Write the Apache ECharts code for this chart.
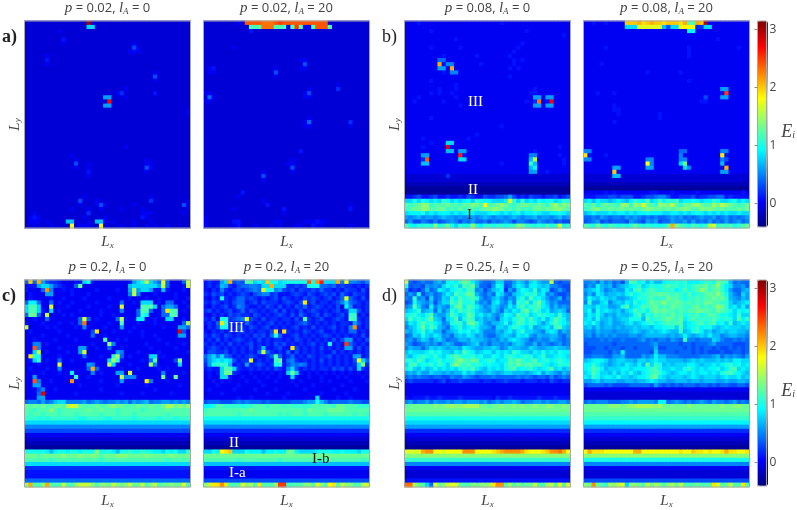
<!DOCTYPE html>
<html>
<head>
<meta charset="utf-8">
<style>html,body{margin:0;padding:0;background:#fff}#main{width:797px;height:510px}</style>
<script src="https://cdn.jsdelivr.net/npm/echarts@6/dist/echarts.min.js"></script>
</head>
<body>
<div id="main"></div>
<script>
// site values, one character per cell (base 36 level, E = level*0.1-0.4), rows from top to bottom
const panelA = [
"3333333333 33333y3333 3333333333 3333333333",
"3333333333 33333cc333 3333333333 3333333333",
"3333333343 3333333333 3333333333 3333333333",
"3333333333 3333333333 3333333333 3333333333",
"3333333335 3333333333 3333333333 3333333333",
"3333333334 3333333333 3333334333 3333333333",
"3333333333 3333333333 3333337433 3333333333",
"3333333333 3333333333 3333344433 3333333333",
"3333343333 3333333333 3333333333 3333333333",
"3333353333 3333333333 3333333333 3333333333",
"3333343333 3333333333 3333333333 3333333333",
"3333333333 3333333333 3333333333 3333333333",
"3333333333 3333333333 3333333333 3433333333",
"3333333333 3333333333 3333333333 3733333333",
"3333333333 3333333333 3333333333 3433333333",
"3333333333 3333333333 3333333333 3333333333",
"3333333333 3333333333 3333433333 3333333333",
"3333333333 3333333333 3346333333 3533333333",
"3333333333 333333333a a333433333 3333333333",
"3333333333 3333333333 v333333333 3333333333",
"3333333333 333333333a a333333333 3333333333",
"3333333333 3333333333 3333333333 3333333334",
"3333333333 3333333333 3333333333 3333333334",
"3333333333 3333333333 3333333333 3333333333",
"3333333333 3333333333 3333333333 3333333333",
"3333333333 3333333333 3333333333 3333333333",
"3333333333 3333333333 3333333333 3333333333",
"3333333333 3333333333 3333333333 3333333333",
"3333333333 3333333333 3333333333 3333333333",
"3333333333 3333333333 3333333333 3333333333",
"3333333333 3333333333 3333433333 3333333333",
"3333333333 3333333333 3333333333 3333333333",
"3333333333 3433333333 3333333333 3333333333",
"3333333333 3343333333 3333333334 3333333333",
"3333333333 3373343333 3333333334 4333333333",
"3333333333 3343343333 3333333337 4333333333",
"3333333333 3333353333 3333333334 3333333333",
"3333333333 3333343333 3333333333 3333333333",
"3333333333 3333333333 3333333333 3333333333",
"3333333333 3333333333 3333333333 3333333333",
"3333333333 3333333333 3333333333 3333333333",
"3333333333 3333333333 3333333333 3333333333",
"3333333333 3333433333 3333333333 4333333333",
"3333333333 3337333433 3333333333 6333333334",
"3333333333 3334333474 3333334333 3333333374",
"3333333333 3433343343 3334333343 3333333334",
"3343333333 3333363333 3333333344 4333333343",
"3454333333 3333433334 3333333354 3333333333",
"3444343333 bb33343bb4 3433334333 4333333333",
"3343334333 3m344433m4 3334334334 3433433333"
];
const panelA2 = [
"3333333343 ssssrrrsts ssssssssss 3333333333",
"3333333333 3gggrrrggg 4gtg44gsss g333333333",
"3333333333 3533333333 3333333333 3333333333",
"3333333333 3333333333 3333333333 3333333333",
"3333333333 3333333333 3333333333 3333333333",
"3333333333 3333333333 3333333333 3333333333",
"3333333433 3333333333 3333333333 3333333333",
"3333333333 3333333333 3333333333 3333333333",
"3333333333 3333333333 3333333333 3333333333",
"3333333333 3333333333 3334433333 3333333333",
"3333333333 3333333333 3333733333 3333333333",
"3453333333 3333333433 3334433333 3333333333",
"3443333333 3333333733 3333333333 3333333333",
"3333333333 3333333433 3333333333 3333333333",
"3333333333 3333333333 3333333333 3333333333",
"3333333333 3333333333 3333333333 3343333333",
"3333333333 3333333333 3333343333 3363333333",
"4433333333 3333333333 3333473333 3333333333",
"3843333333 3333333333 3333443333 3333333333",
"4433333333 3333333333 3333333333 3333333333",
"3333333333 3333333333 3333333333 3333333333",
"3333333333 3333333333 3333333333 3333333333",
"3333333333 3333333333 3333333333 3333333333",
"3333333333 3333333333 3333343333 3333333333",
"3333333333 3333333333 3333483333 3333363333",
"3333333333 3333333333 3333443333 3333343333",
"3333333333 3333333333 3333333333 3333333333",
"3333333333 3333333333 3333333333 3333333333",
"3333333333 3333333333 3333333333 3333333333",
"3333333333 3333333333 3333333333 3333333333",
"3333333333 3333333333 3333333333 3333333333",
"3333333333 3333333333 3335333333 3333333333",
"3333333333 3333333333 3333333333 3333333333",
"3333333333 3333333333 3433333333 3333333333",
"3333333333 3333333333 4433333333 3333333333",
"3333333333 3333333333 3733333333 3333333333",
"3333333333 3333433333 3433333333 3333333333",
"3333333333 3333733333 3333333333 3333333333",
"3333333333 3333433333 3333333333 3333333333",
"3333333333 3333333333 3333333333 3333333333",
"3333333333 3333333333 3333333333 3333333333",
"3333333335 3333333333 3333333333 3333333333",
"3333333343 3333333333 3333333333 3333333333",
"3333333333 3333433333 3333333333 3333333333",
"3333333333 3333353333 3333333333 3333343333",
"3333333433 3333333335 3333333333 3333353333",
"3333333333 3333333334 3333333333 3333333333",
"4333333333 3333333333 3333333333 3333333333",
"4333333553 3333333443 3333444544 3333333333",
"4333333453 3343334343 3344335443 3333343333"
];
const panelB = [
"4445444444 4444444444 4445444444 4444444444",
"4444444444 4444444444 4444444444 4444444444",
"4444445444 4444444444 4444444445 4444444444",
"4444444444 4444444444 4444444444 4444444454",
"4444444444 4454444444 4444444444 4444444444",
"4444444444 4444444444 4444444454 4444444444",
"4444445444 4445444444 4444444544 4444444444",
"4444444444 4444444444 4444445444 4444444444",
"4444444445 4444444544 4444454444 4444444444",
"4444444488 4444444444 4444445454 4444444444",
"44444444p5 9944444454 4444445444 4444444444",
"44444444aa 4p44444444 4444454544 4444444444",
"4444444445 4994444444 4444444444 4444444444",
"4444444444 4444444444 4444454444 4444444444",
"4444445444 4444444444 4444444444 4444444444",
"4444444444 4454444444 4444444444 4444444444",
"4444444454 4454444444 4444444444 4544444444",
"4444445454 4544444444 4444444444 5544444444",
"4445444444 4454444444 4444444444 4aa4aa4444",
"4454444445 4444444444 4444444445 46r45v4444",
"4444444444 4445444444 4444444444 4aa4aa4444",
"4444444444 4444444444 4444444444 4444444444",
"4444444444 4444444444 4444444444 4444444444",
"4444445444 4444444444 4444444444 4444444444",
"4444444444 4444444444 4444444444 4444444444",
"4444444444 4444444444 4445444444 4444444444",
"4444444444 4444444444 4444444444 4444444444",
"4444444444 4444444544 4444444444 4444444444",
"4444544444 4444454444 4444444444 4444444444",
"4444445444 cc44444444 4444444444 4444444444",
"4444544444 w544444444 4444444444 4444444544",
"4444444444 bb4aa44444 4444444444 4544444444",
"4444aa4444 444u544444 4444444444 9944444544",
"44446s4444 444cc44444 4444444444 bk44444454",
"4444bb4444 4444444444 4445444444 fb44444454",
"4444444444 4444444444 4444444444 bd44444444",
"4444444444 4444444444 4444444444 aa44544444",
"3333333333 6333333333 3333333333 3333333333",
"3333333333 3333333333 3333333333 3333333333",
"2222222222 2222222222 2222222222 2222222222",
"1111111111 1111111111 1111111111 1111111111",
"1111111111 1111111111 1111111111 1111111111",
"5567556755 6556576557 66778a7565 7665667567",
"ccecedcdcf ecdcdecfed dcccdlfcfc dcedeecdfe",
"gfghiifggg hggfhgihgm gghihgfghh gghgfhjgih",
"fghhiigghh fgfhfggfgh hiihggfhfg fhhghhiihg",
"cdddecdcdd dcdcdedccc dedcdcdecd dedccddedc",
"a9ab9aa9ab aa9a9aa9ab a9aa9aba9a ab9aa9ab9a",
"8a77987978 9a9798a889 7989a97998 78a9897877",
"gedfefeief hecfeejedf feffeffihf fefegeflef"
];
const panelB2 = [
"4454454444 ooopnopoon ooonpggpoy 4444444444",
"4444444444 cccllllllb 7ccmmmm66c c444444444",
"4444444444 4444444444 44444dd444 4444444444",
"4444444444 4444444444 4444444444 4444444444",
"4444444444 4444444444 4444444444 4454444444",
"4444444444 4444444444 4444444444 4444444444",
"4444454444 4444444444 4444454444 4444444544",
"4444444444 4444444444 4444454444 4444444444",
"4444444444 4444444444 4444454444 4444444444",
"4444444444 4444444444 4444444444 4444444444",
"4444544444 4444444444 4444444444 4444444444",
"4444444444 4444444444 4444444444 4444444444",
"4444444444 4444454444 4445444444 4444444444",
"4444444444 4444444444 4444444444 4444444444",
"4444444444 4444444444 4444454444 4444444444",
"4444444444 4444444444 4444444444 4444444444",
"4444444444 4444444444 4444444444 444aa44444",
"4445444544 4444444444 4444444444 4445t44444",
"4444444444 4444444444 4444444447 444aa44444",
"4444444444 4444444444 4444444455 4444444444",
"4444444544 4444444444 4444444444 4444444444",
"4444444554 4444444444 4444444444 4444444444",
"4444444454 4444444454 4444444444 4444444444",
"4444444444 4444444454 4444444444 4444444444",
"4444444544 4444444444 4444444444 4444444444",
"4444444444 4444444444 4444444444 4444444444",
"4444444444 4444444444 4444444444 4444444444",
"4444444444 4444444444 4444444444 4444444444",
"4444444444 4444444444 4444444444 4444444444",
"4444444444 4444444444 4444444444 4444444444",
"4444444444 4444444444 4444444444 4444444444",
"9944444444 4444444444 4448844444 4449944444",
"n544454444 4444444444 4449444444 444n544444",
"9944444444 4444499444 4449944444 4449744444",
"4444444444 44444m9444 444ch44444 444b444444",
"4444444aa4 44444aa444 4444c94444 4444p44444",
"4444444o54 4444444444 4444444444 444aa44444",
"3333333bb3 3333333333 3333333333 3333333333",
"3333333333 3333333333 3333333333 3333333333",
"2222222222 2222222222 2222222222 2222222222",
"1111111111 1111111111 1111111111 1111111111",
"4444454544 4444445544 4544444544 4444444454",
"5556667767 7755677899 7556667566 7788565555",
"cdbdccbcdc bdfedgcdgd fegcddedcd dfeccdecdc",
"gfheghggfj ifjhlhgfii hkgfhhijhg gjhkihgfgh",
"fghigghghh ghgghihhhg hghhihggih ihghggghgh",
"bcdcccdcdd cdcddedddc cddcdcdedc dcdcdccdcc",
"8898a98998 a9a9898988 9a9a8989a9 9a89a8989a",
"789a787888 7a987a9a78 8a99a8a898 a898a89a89",
"gfehfegfef efhfefeeee gphgfegfef jlfgfgefgh"
];
const panelC = [
"8o8pa76654 4455ce5444 444445acek ca8l84448k",
"555acca765 448h444444 44444bcccc ccak84445k",
"54448q9445 4544444544 44544ajacc a55b544454",
"45444aa444 4544454444 444449k944 4544445444",
"4544445445 4444544444 5444454445 4454445445",
"8dd8448454 4544444544 44484454cc c454884454",
"cggc44l444 5444454444 544l4444gg gc48aa8445",
"cggc54c454 4445444454 44494448gg 8448ngg454",
"8hh84k4445 4544444454 45444448fd 44488gg444",
"4454484444 4448l84544 448k544dd4 4544cc4454",
"5444544454 4548r44444 544g444544 454444448j",
"k444454544 4454944445 444a445444 4445444aa8",
"4544444454 4444447n44 4544454454 4444444w74",
"4444544444 5444448445 4444444454 4544444aa4",
"4454444544 445444444g 4454544444 4454444444",
"4499454444 4444445444 i944444445 4444544454",
"44s9444454 444aa44544 8445444444 5444445444",
"44ck454444 544al44444 44a9444544 4454444445",
"4nfe444454 4444844454 4fj8454444 cc45444444",
"45cf454484 4544444444 cjf5444454 8g44447i44",
"44454444l4 44444a9444 kc44454444 j944444c44",
"4544454494 444448p844 4445444544 4454544444",
"4444544454 4d44449454 44aa4l4444 4449444454",
"44a4444444 44f4454444 444k999444 444h44h444",
"44s9445444 4q44444454 444a44444n 9444544444",
"44aa444444 4445444444 4454444445 4444444544",
"4447944544 4444444454 4444444444 4544444444",
"4448w44444 4454444444 4445444454 4444454444",
"444aa44444 4444444444 4444444444 4444444444",
"8998a89bcc 9999a89a98 99a9a8a9ab 899aa9a9a9",
"hghghgghhg jlkhggghgg hihhggghgg hgghjjhihi",
"ggfgggigfg ggggghgghg ggfgggggfg gggghggggg",
"gfggfgggfg ggfgggggfg ggfgggfggg ggggfggggg",
"fffefeffff fffeeffffe efffffefff ffefffefff",
"cccccccccc cccccccccc cccccccccc cccccccccc",
"9999999999 9999999999 9999999999 9999999999",
"7777777777 7777777777 7777777777 7777777777",
"4444444444 4444444444 4444444444 4444444444",
"3333333333 3333333333 3333333333 3333333333",
"2222222222 2222222222 2222222222 2222222222",
"1111111111 1111111111 1111111111 1111111111",
"eeeeedbdee deedeeeiee edbeefeefe eddcedeccf",
"hhhghhhhhi hhhihhihgh hhiiihhhhi hhhhhihhhh",
"ggggggfggg ggggggggfg gggggggggg ggggfggggg",
"cccccccccc cccccccccc cccccccccc cccccccccc",
"6666666666 6666666666 6666666666 6666666666",
"5555555555 5555555555 5555555555 5555555555",
"5555555555 5555555555 5555555555 5555555555",
"8888888888 8888888888 8888888888 8888888888",
"ipggipgggk ggikkkigii hkihikhhkg ikghhihhlg"
];
const panelC2 = [
"5655acp787 ggcdcoeecd eeeeesequc ccp9m99879",
"5656ba6578 8998ccpccc 66767eee88 7867665656",
"5465965676 7898lee9a7 6757667686 6565766575",
"6576756567 6578996755 5676576567 6758657665",
"5465e65688 6765656757 6565767656 7568l86575",
"6576565788 5675766656 7657n67566 5679c87656",
"5465675698 6556576575 6576856765 6574d95656",
"6756567568 5765656757 5657567656 56756cc756",
"5465657676 6576565676 5758656757 65675ff565",
"6574ee6789 l765756656 6575g65675 56765gf656",
"5658nf6565 8656567565 6567865656 565665a756",
"4657ee6576 5765675656 5675657565 675659q656",
"5465656567 5656657n5n 6565765675 5656588565",
"6576576565 6576758e85 5675656567 6565656575",
"5657565676 5657565665 6576565656 5757aa5657",
"6565657565 6756565767 5656567565 e565t86565",
"5676565656 5756b55675 5n75656575 6565aa5756",
"5776675656 5658k86565 8575656565 5756565656",
"8ac9c87565 6765568g85 6856576566 756565aa56",
"7acdcdc756 6l56565fh5 8965656575 6565657lc8",
"6aefffb565 a567656ee5 7989856565 6565656ci6",
"5655cggc65 5656565765 9c75656566 5767575c65",
"4545chh654 4544545454 chc5454545 4545454545",
"4544cc5445 4454454454 4c54454454 4454544454",
"4454545444 5445444544 4545444454 5444454445",
"4445444454 4444544444 4454445444 4445444444",
"4544444544 4454444544 4444544444 4544445444",
"3444544444 4444454444 5444444454 4444544444",
"4444444454 4544444445 4444444c44 4454454444",
"7888777898 9888787777 78889aaeb9 7888898877",
"ddeggffffe ffgggfgggf gfffffgggg gfhhgggfff",
"fggggggggg ghgggggggg ggggfhgggg hhhhgggggg",
"ggggggggfg ggggggggfg fgggfggggf ggggggfggf",
"eeeeeeeeee eeeeeeeeee eeeeeeeeee eeeeeeeeee",
"cccccccccc cccccccccc cccccccccc cccccccccc",
"9999999999 9999999999 9999999999 9999999999",
"6666666666 6666666666 6666666666 6666666666",
"4444444444 4444444444 4444444444 4444444444",
"3333333333 3333333333 3333333333 3333333333",
"2222222222 2222222222 2222222222 2222222222",
"1111111111 1111111111 1111111111 1111111111",
"ccedmnoccc edddbddedd hhdccccdee eddedddcee",
"hhhhhhhhhh hhhhhhhhhh hhhhhhhhhh hhhhhhhhhh",
"ggggggggfg ggggggggfg ggggggggfg ggggggggfg",
"bbbbbbbbbb bbbbbbbbbb bbbbbbbbbb bbbbbbbbbb",
"5555555555 5555555555 5555555555 5555555555",
"4444444444 4444444444 4444444444 4444444444",
"4444444444 4444444444 4444444444 4444444444",
"7777777777 7777777777 7777777777 7777777777",
"iknnqngggl ijgngggitt fgggiiglig mngkiiggkk"
];
const panelD = [
"k878988ab9 dedfhgdb98 89cc88acb9 cdbaak8788",
"e7887a9a9c edfcgfhb88 7aed78bdca ddcbc99877",
"a6768b89dc bdefdgf9a7 9bcd6a8ced cfbdc78a87",
"8a8e79a89b dcgefhgb98 a8dc98bcdf efcd9a8778",
"98f9a7c89c bfdgefgea8 9bca8a9dfc gdeca89b79",
"78eba9b7ac cgeheefb9a 8cda9c9feg cfhdb9a888",
"9agc98d9ba 9dghdgfdb9 acb9adbegd ffgdc9b9a9",
"bcdfabc8c9 bfdgegecba 9ca8cbdcfh dgecdabcb8",
"defdcegbaa cgecdhfcdb ca9bedcgef cdfeedcfcb",
"cgdfdfhcb8 cdgbegfbca ba8cdcefgd gdcebdgfdb",
"adcegefdc9 aeffcgheca 9bbcebdgfd fecacegedc",
"9bcehdgeba 8cdfcdfdbb a8ccbdfedc eabcdbfgcb",
"bacdfcdbb8 abcedecdb9 99bacdbdfc cba9cdc9ba",
"89cbecbdc9 a8bcbdcab9 88abcbadcd a9baabb98a",
"9a8acb9bca 899bbacbba 9a9bacdcba 89a99ba989",
"a9789a9a8a ba889abc9a 8aa9a9bcb9 9b8a989a89",
"9baa8acbcb abbadcbaab bcb9acbbaa cbaabbcbba",
"bdcccdfdec cbdcgedbcd dbdcdcfecc bdcecdcedd",
"cbdefedfdc efgfeefdec cedcefedef ecdfccdedc",
"efdgecdefd eegigfhgde fecddgfhfe fgdefdefed",
"cfgdeefdfe cfigfgefed eddcegfhfg gfgedcdfee",
"dfcbdbcecd cdcefegdcb dcdcefgdee fdcdegcdbc",
"abacaacbba babbdbcaab cbabccbbba bcdacba9ba",
"8989887887 7988a98788 8988888989 8788797898",
"6766666567 5667666656 6566766656 6656576566",
"4444444444 4444444444 4444444444 4444444444",
"4444444444 4444444444 4444444444 4444444444",
"4444444444 4444444444 4444444444 4444444444",
"5455565565 5556555555 5465565555 5565556555",
"9a899a8a99 a9aa9aaa9a 89a9aaba89 9aa9a99aa9",
"ghhhhhhihi ijiijjjjhh ghhihhihih hihhiihhih",
"hhhhhhhhhh hhhhhhhhhh hhhhhhhhhh hhhhhhhhhh",
"gggggggggg gggggggggg gggggggggg gggggggggg",
"eeeeeeeeee eeeeeeeeee eeeeeeeeee eeeeeeeeee",
"cccccccccc cccccccccc cccccccccc cccccccccc",
"aaaaaaaaaa aaaaaaaaaa aaaaaaaaaa aaaaaaaaaa",
"6666666666 6666666666 6666666666 6666666666",
"4444444444 4444444444 4444444444 4444444444",
"3333333333 3333333333 3333333333 3333333333",
"2222222222 2222222222 2222222222 2222222222",
"1111111111 1111111111 1111111111 1111111111",
"llllpqqmml mmmmqqqmmm mnopqqqqpn mmmnoqqrpm",
"iiiiiiiiii iiiiiiiiii iiiiiiiiii iiiiiiiiii",
"ffffffffff ffffffffff ffffffffff ffffffffff",
"9999999999 9999999999 9999999999 9999999999",
"4444444444 4444444444 4444444444 4444444444",
"3333333333 3333333333 3333333333 3333333333",
"3333333333 3333333333 3333333333 3333333333",
"5555555555 5555555555 5555555555 5555555555",
"rrjhgc8lhi kllhggihii jnqqgjgigh hkggjkgmgl"
];
const panelD2 = [
"99a8b9a897 bgfdebdbbd eefefdddef fehgfb8988",
"8a9dbab8ab cdefcdfeef gffefefggh fgifdc99a8",
"abcdb9abaa dcfgdfgfef ffdegefgih fghfda88ab",
"9b9dcabbcb dfdeffgghg gfgfegeffg hgigeb98ca",
"aecbdcbcaa bcdfefgfff hggfeffgfg ghghfba9ba",
"9faacd9bcb dcfdefhggi gghgfgfgfh hggffcabcd",
"ccbdccaabe gcdegfghfg fhggffghfg fgihfcdbda",
"ceaecdcbca cdgefdghgh ggfgfgghhg gfhgfecede",
"bdcecabacb bcegcfegfg fhfgeffgef ggfeedcfcc",
"cdbebbcabc ceeebgeffg hgfhdfgfff fgfefecgdf",
"dcecabcaab cdbcdefdef gfggcdefge fgdecfbcdc",
"bcacabbaba bbcbccbdde efcgcdefde ecbcdcccbc",
"aa9baaa9aa abcbabcbcd cbbfbcefdb cabcbccbba",
"9a8a9a9a99 9aa9abbbbb ababdbabcb dbb9abbaa9",
"8888989889 8889a89899 8a98f99899 9cb9889898",
"7888888788 8888889a88 8887887888 9a88887778",
"7778878887 8878888b77 8888787878 8787787878",
"778888798d 8888887c88 8878887878 7778778878",
"8899988aab 8888a9adbb 9998888899 9ab8a9a98a",
"bcdedcabcc bbaccbcdcc bbbbabcbcb bbcbcbddcc",
"ddfdcbabcb dcbdbgcfeb cbcccddcbc cdcdefdecd",
"degfdbcccd dcdddefgec cdccefdcdc ddecdfgcdc",
"cdgeccbdbd cecbdefgfd cbcddcdcdd cdcefgedcb",
"dcfecddcec cbcddeghdc bcccbcdcbc ccbcdccdbc",
"aabcabbbaa bbabbcdcbb aabbbabbab bbaabaabba",
"7888878777 7888887a87 8787888788 7878877887",
"4444444444 4444444444 4444444444 4444444444",
"3333333333 3333333333 3333333333 3333333333",
"3333333333 3333333333 3333333333 3333333333",
"8989998889 9a9aaaa9dd 89a98989a9 8a9989a898",
"hhhhhhiiih iijjjjjijh hhhhhihhhh hhhihhiihh",
"hhhhhhhhhh hhhhhhhhhh hhhhhhhhhh hhhhhhhhhh",
"gggggggggg gggggggggg gggggggggg gggggggggg",
"ffffffffff ffffffffff ffffffffff ffffffffff",
"dddddddddd dddddddddd dddddddddd dddddddddd",
"aaaaaaaaaa aaaaaaaaaa aaaaaaaaaa aaaaaaaaaa",
"6666666666 6666666666 6666666666 6666666666",
"4444444444 4444444444 4444444444 4444444444",
"3333333333 3333333333 3333333333 3333333333",
"2222222222 2222222222 2222222222 2222222222",
"1111111111 1111111111 1111111111 1111111111",
"mpnnnmmmmm mmppmmmmmm mmmnmmonnm nmmnpnnmmn",
"iiiiiiiiii iiiiiiiiii iiiiiiiiii iiiiiiiiii",
"eeeeeeeeee eeeeeeeeee eeeeeeeeee eeeeeeeeee",
"9999999999 9999999999 9999999999 9999999999",
"4444444444 4444444444 4444444444 4444444444",
"3333333333 3333333333 3333333333 3333333333",
"3333333333 3333333333 3333333333 3333333333",
"7777777777 7777777777 7777777777 7777777777",
"ihqhgfjikl ciihgkhjig ijhkggghgg gnlghkggng"
];
const panelRows = [panelA, panelA2, panelB, panelB2, panelC, panelC2, panelD, panelD2];
const pLabels = ['0.02', '0.02', '0.08', '0.08', '0.2', '0.2', '0.25', '0.25'];
const lLabels = ['0', '20', '0', '20', '0', '20', '0', '20'];
const colorbarTicks = [0, 1, 2, 3];

const jet = ['#000080', '#0000ff', '#007fff', '#00ffff', '#7fff7f', '#ffff00', '#ff7f00', '#ff0000', '#7f0000'];
const serif = '"Liberation Serif"';
const textColor = '#444';
const math = {
    i: {fontFamily: serif, fontStyle: 'italic', fontWeight: 'normal', fontSize: 15, color: textColor},
    s: {fontFamily: serif, fontStyle: 'italic', fontWeight: 'normal', fontSize: 9, color: textColor, padding: [6, 0, 0, 0]},
    t: {fontFamily: '"Open Sans"', fontWeight: 'normal', fontSize: 13, color: textColor}
};

const panelX = [24.5, 203.5, 404.5, 583.5];
const panelY = [21, 280];
const panelW = 166, panelH = 207;
const rowCount = 50, colCount = 40;

function parseRows(rowList) {
    let data = [];
    for (let r = 0; r < rowList.length; r++) {
        let row = rowList[r].replace(/ /g, '');
        for (let c = 0; c < colCount && c < row.length; c++) {
            data.push([c, r, parseInt(row[c], 36) * 0.1 - 0.4]);
        }
    }
    return data;
}

let grids = [], xAxes = [], yAxes = [], series = [], titles = [], underlays = [];
let cols = [], rows = [];
for (let i = 0; i < colCount; i++) cols.push(i);
for (let i = 0; i < rowCount; i++) rows.push(i);

for (let i = 0; i < 8; i++) {
    let left = panelX[i % 4];
    let top = panelY[i < 4 ? 0 : 1];
    grids.push({left: left, top: top, width: panelW, height: panelH, show: true, z: 5,
        backgroundColor: 'transparent', borderColor: '#a8a8a8', borderWidth: 1});
    xAxes.push({type: 'category', gridIndex: i, data: cols,
        axisLine: {show: false}, axisTick: {show: false}, axisLabel: {show: false}, splitLine: {show: false},
        name: '{i|L}{s|x}', nameLocation: 'middle', nameGap: 7, nameTextStyle: {rich: math}});
    yAxes.push({type: 'category', gridIndex: i, data: rows, inverse: true,
        axisLine: {show: false}, axisTick: {show: false}, axisLabel: {show: false}, splitLine: {show: false},
        name: i % 2 == 0 ? '{i|L}{s|y}' : '', nameLocation: 'middle', nameGap: 2, nameTextStyle: {rich: math}});
    series.push({type: 'heatmap', xAxisIndex: i, yAxisIndex: i, data: parseRows(panelRows[i]),
        progressive: 0, animation: false, silent: true, itemStyle: {borderWidth: 0}});
    titles.push({text: '{i|p}{t| = ' + pLabels[i] + ', }{i|l}{s|A}{t| = ' + lLabels[i] + '}',
        left: left + panelW / 2, top: top - 20, textAlign: 'center', padding: 0,
        textStyle: {fontWeight: 'normal', rich: math}});
    underlays.push({type: 'rect', silent: true, z: -1,
        shape: {x: left, y: top, width: panelW, height: panelH}, style: {fill: '#0000e0'}});
}
// second pass of the same cells so the seams between fractional cell edges stay closed
for (let i = 0; i < 8; i++) {
    series.push({type: 'heatmap', xAxisIndex: i, yAxisIndex: i, data: series[i].data,
        progressive: 0, animation: false, silent: true, itemStyle: {borderWidth: 0}});
}

// colorbars: the gradient comes from visualMap, the ticks from a value axis on top of it
let visualMaps = [];
for (let i = 0; i < 2; i++) {
    let top = panelY[i];
    let g = grids.length;
    grids.push({left: 757.5, top: top, width: 10.5, height: panelH - 1, show: true, z: 5,
        backgroundColor: 'transparent', borderColor: '#a8a8a8', borderWidth: 1});
    xAxes.push({type: 'value', gridIndex: g, show: false});
    yAxes.push({type: 'value', gridIndex: g, position: 'right', min: -0.4, max: 3.14, z: 6,
        axisLine: {show: false}, splitLine: {show: false},
        axisTick: {show: true, inside: true, length: 3, customValues: colorbarTicks, lineStyle: {color: '#888'}},
        axisLabel: {customValues: colorbarTicks, margin: 3, fontFamily: '"Open Sans"', fontSize: 12, color: textColor},
        name: '{i|E}{s|i}', nameLocation: 'middle', nameGap: 13, nameRotate: 0, nameTextStyle: {padding: [16, 0, 0, 0], rich: {
            i: {fontFamily: serif, fontStyle: 'italic', fontSize: 18, color: textColor},
            s: {fontFamily: serif, fontStyle: 'italic', fontSize: 10, color: textColor, padding: [6, 0, 0, 0]}
        }}});
    visualMaps.push({type: 'continuous', min: -0.4, max: 3.14,
        seriesIndex: i == 0 ? [0, 1, 2, 3, 8, 9, 10, 11] : [4, 5, 6, 7, 12, 13, 14, 15],
        left: 757.5, top: top, itemWidth: 10.5, itemHeight: panelH - 1, padding: 0, text: null,
        showLabel: false, calculable: false, hoverLink: false, realtime: false, inRange: {color: jet}});
}

function label(text, x, y, size, color, weight) {
    return {type: 'text', left: x, top: y, z: 20, silent: true,
        style: {text: text, fill: color, fontFamily: serif, fontSize: size, fontWeight: weight || 'normal'}};
}

let labels = [
    label('a)', 2, 28, 18, '#222', 'bold'),
    label('b)', 382, 28, 18, '#222'),
    label('c)', 2, 287, 18, '#222', 'bold'),
    label('d)', 382, 287, 18, '#222'),
    label('III', 468, 95, 15, '#fff'),
    label('II', 468, 183, 15, '#fff'),
    label('I', 467, 208, 15, '#111'),
    label('III', 229, 321, 15, '#fff'),
    label('II', 229, 436, 15, '#fff'),
    label('I-b', 312, 452, 15, '#111'),
    label('I-a', 229, 466, 15, '#fff')
];

let myChart = echarts.init(document.getElementById('main'), null, {renderer: 'canvas'});
myChart.setOption({
    animation: false,
    backgroundColor: '#fff',
    title: titles,
    grid: grids,
    xAxis: xAxes,
    yAxis: yAxes,
    visualMap: visualMaps,
    series: series,
    graphic: underlays.concat(labels)
});
</script>
</body>
</html>
